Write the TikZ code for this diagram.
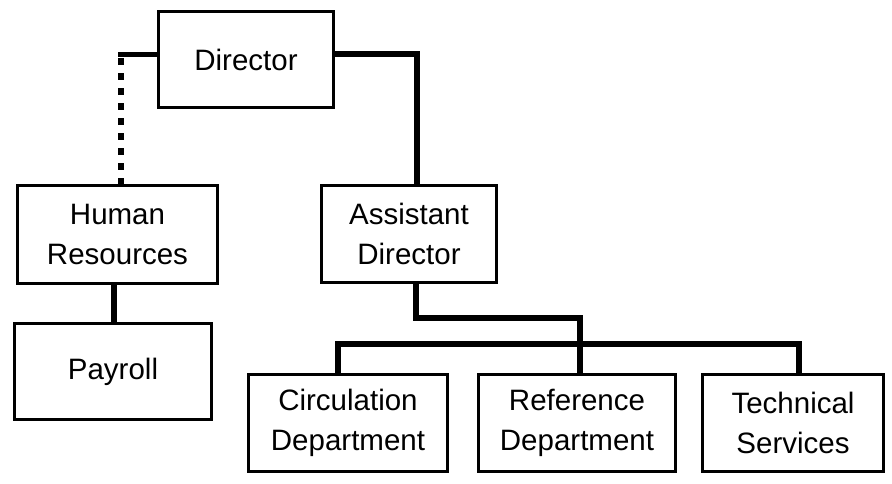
\documentclass[tikz,border=0pt]{standalone}
\usepackage{fontspec}
\setmainfont{Liberation Sans}
\begin{document}
\begin{tikzpicture}[x=1pt,y=-1pt,
  box/.style={draw=black, line width=3pt, align=center, inner sep=0pt,
    font=\fontsize{29.5pt}{40pt}\selectfont},
  conn/.style={draw=black, line width=6.5pt, line join=miter},
  dotline/.style={draw=black, line width=6.5pt, dash pattern=on 7pt off 8pt}]
\useasboundingbox (0,0) rectangle (892,483);
\node[box, minimum width=175pt, minimum height=96pt] (director) at (246,59.5) {Director};
\node[box, minimum width=200pt, minimum height=98pt] (hr) at (117.5,234.5) {Human\\Resources};
\node[box, minimum width=197pt, minimum height=96pt] (payroll) at (113,371.5) {Payroll};
\node[box, minimum width=175pt, minimum height=97pt] (ad) at (409,234) {Assistant\\Director};
\node[box, minimum width=199pt, minimum height=97pt] (circ) at (348,423) {Circulation\\Department};
\node[box, minimum width=197pt, minimum height=97pt] (ref) at (577,423) {Reference\\Department};
\node[box, minimum width=181pt, minimum height=97pt] (tech) at (793,423) {Technical\\Services};
\coordinate (hrc) at (121,54);
\coordinate (j1) at (580,318);
% Director to Human Resources (dotted)
\draw[conn, line width=5pt] ([yshift=5.5pt]director.west) -- ([xshift=-3pt]hrc);
\draw[dotline] ([yshift=-4pt]hrc) -- (hrc |- hr.north);
% Director to Assistant Director
\draw[conn] ([yshift=5.5pt]director.east) -| ([xshift=8pt]ad.north);
% Human Resources to Payroll
\draw[conn] ([xshift=-3.5pt]hr.south) -- ([xshift=-3.5pt]hr.south |- payroll.north);
% Assistant Director to departments
\draw[conn] ([xshift=7pt]ad.south) |- (j1) -- ([xshift=3pt]ref.north);
\draw[conn] ([xshift=-10pt]circ.north) -- ++(0,-29) -| ([xshift=6pt]tech.north);
\end{tikzpicture}
\end{document}
